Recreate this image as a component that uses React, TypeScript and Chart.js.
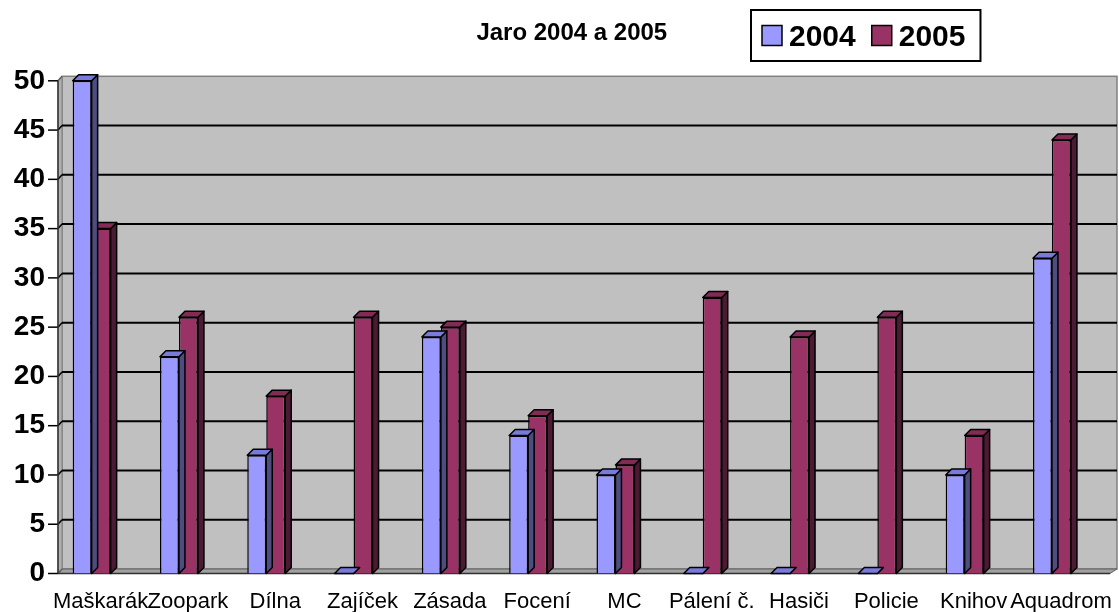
import React, { useEffect, useRef } from "react";
import { Chart, registerables } from "chart.js";

Chart.register(...registerables);

const categories = [
  "Maškarák", "Zoopark", "Dílna", "Zajíček", "Zásada", "Focení",
  "MC", "Pálení č.", "Hasiči", "Policie", "Knihov", "Aquadrom",
];
const values2004 = [50, 22, 12, 0, 24, 14, 10, 0, 0, 0, 10, 32];
const values2005 = [35, 26, 18, 26, 25, 16, 11, 28, 24, 26, 14, 44];
const seriesLabels = ["2004", "2005"];
const titleText = "Jaro 2004 a 2005";

const FONT = '"Liberation Sans", Arial, Helvetica, sans-serif';
const DX = 6;
const DY = 6;

const backgroundPlugin = {
  id: "excel3dBackground",
  beforeDraw(chart: any) {
    const { ctx, chartArea } = chart;
    const { left, top, bottom } = chartArea;
    const yScale = chart.scales.y;
    const fx = left + 10;
    const bx = left + 14;
    const wallTop = top - 4.5;
    const wallBottom = bottom - 4.5;
    const wallRight = chart.width - 2;
    ctx.save();
    ctx.fillStyle = "#C0C0C0";
    ctx.fillRect(bx, wallTop, wallRight - bx, wallBottom - wallTop);
    ctx.strokeStyle = "#808080";
    ctx.lineWidth = 1.5;
    ctx.strokeRect(bx, wallTop, wallRight - bx, wallBottom - wallTop);
    ctx.beginPath();
    ctx.moveTo(fx, top);
    ctx.lineTo(bx, wallTop);
    ctx.lineTo(bx, wallBottom);
    ctx.lineTo(fx, bottom);
    ctx.closePath();
    ctx.fillStyle = "#B0B0B0";
    ctx.fill();
    ctx.strokeStyle = "#808080";
    ctx.lineWidth = 1;
    ctx.stroke();
    ctx.beginPath();
    ctx.moveTo(fx, bottom);
    ctx.lineTo(bx, wallBottom);
    ctx.lineTo(wallRight, wallBottom);
    ctx.lineTo(wallRight - 7, bottom);
    ctx.closePath();
    ctx.fillStyle = "#A0A0A0";
    ctx.fill();
    ctx.strokeStyle = "#606060";
    ctx.lineWidth = 1;
    ctx.stroke();
    const ticks = yScale.ticks;
    ticks.forEach((t: any) => {
      const y = yScale.getPixelForValue(t.value);
      const isEdge = t.value === yScale.min || t.value === yScale.max;
      if (!isEdge) {
        ctx.strokeStyle = "#000000";
        ctx.lineWidth = 2;
        ctx.beginPath();
        ctx.moveTo(bx, y - 4.5);
        ctx.lineTo(wallRight, y - 4.5);
        ctx.stroke();
      }
      ctx.strokeStyle = isEdge ? "#606060" : "#000000";
      ctx.lineWidth = 1.5;
      ctx.beginPath();
      ctx.moveTo(fx, y);
      ctx.lineTo(bx, y - 4.5);
      ctx.stroke();
      ctx.strokeStyle = "#000000";
      ctx.lineWidth = 1.5;
      ctx.beginPath();
      ctx.moveTo(left, y);
      ctx.lineTo(fx, y);
      ctx.stroke();
    });
    ctx.strokeStyle = "#303030";
    ctx.lineWidth = 1.5;
    ctx.beginPath();
    ctx.moveTo(fx, top);
    ctx.lineTo(fx, bottom);
    ctx.stroke();
    ctx.beginPath();
    ctx.moveTo(fx, bottom);
    ctx.lineTo(wallRight - 7, bottom);
    ctx.stroke();
    ctx.restore();
  },
};

const bar3dPlugin = {
  id: "bar3d",
  afterDatasetDraw(chart: any, args: any) {
    const meta = args.meta;
    const ds: any = chart.data.datasets[args.index];
    const ctx = chart.ctx;
    ctx.save();
    ctx.lineWidth = 1.5;
    ctx.strokeStyle = "#000000";
    ctx.lineJoin = "round";
    meta.data.forEach((el: any) => {
      const { x, y, base, width } = el.getProps(["x", "y", "base", "width"], true);
      const l = x - width / 2;
      const r = x + width / 2;
      const tp = Math.min(y, base);
      const bt = Math.max(y, base);
      ctx.beginPath();
      ctx.moveTo(r, tp);
      ctx.lineTo(r + DX, tp - DY);
      ctx.lineTo(r + DX, bt - DY);
      ctx.lineTo(r, bt);
      ctx.closePath();
      ctx.fillStyle = ds.sideColor;
      ctx.fill();
      ctx.stroke();
      ctx.beginPath();
      ctx.moveTo(l, tp);
      ctx.lineTo(l + DX, tp - DY);
      ctx.lineTo(r + DX, tp - DY);
      ctx.lineTo(r, tp);
      ctx.closePath();
      ctx.fillStyle = ds.topColor;
      ctx.fill();
      ctx.stroke();
    });
    ctx.restore();
  },
};

const legendPlugin = {
  id: "boxLegend",
  afterDraw(chart: any) {
    const ctx = chart.ctx;
    const bxX = 751;
    const bxY = 10;
    const bxH = 51;
    ctx.save();
    ctx.font = `bold 30px ${FONT}`;
    const items = chart.data.datasets.map((d: any) => ({
      label: d.label,
      color: d.backgroundColor,
      w: ctx.measureText(d.label).width,
    }));
    let width = 11;
    items.forEach((it: any, i: number) => {
      width += 20 + 7 + it.w + (i < items.length - 1 ? 16 : 15);
    });
    ctx.fillStyle = "#FFFFFF";
    ctx.fillRect(bxX, bxY, width, bxH);
    ctx.strokeStyle = "#000000";
    ctx.lineWidth = 2;
    ctx.strokeRect(bxX, bxY, width, bxH);
    let cx = bxX + 11;
    const midY = bxY + bxH / 2;
    items.forEach((it: any) => {
      ctx.fillStyle = it.color;
      ctx.fillRect(cx, midY - 10, 20, 20);
      ctx.lineWidth = 1.5;
      ctx.strokeStyle = "#000000";
      ctx.strokeRect(cx, midY - 10, 20, 20);
      cx += 27;
      ctx.fillStyle = "#000000";
      ctx.textAlign = "left";
      ctx.textBaseline = "alphabetic";
      ctx.fillText(it.label, cx, midY + 10);
      cx += it.w + 16;
    });
    ctx.restore();
  },
};

export default function App() {
  const canvasRef = useRef<HTMLCanvasElement | null>(null);

  useEffect(() => {
    if (!canvasRef.current) return;
    const chart = new Chart(canvasRef.current, {
      type: "bar",
      data: {
        labels: categories,
        datasets: [
          {
            label: seriesLabels[0],
            data: values2004,
            backgroundColor: "#9999FF",
            borderColor: "#000000",
            borderWidth: 1.5,
            topColor: "#7A7ADB",
            sideColor: "#4D4D80",
            categoryPercentage: 0.435,
            barPercentage: 1,
          } as any,
          {
            label: seriesLabels[1],
            data: values2005,
            backgroundColor: "#993366",
            borderColor: "#000000",
            borderWidth: 1.5,
            topColor: "#822B57",
            sideColor: "#4D1A33",
            categoryPercentage: 0.435,
            barPercentage: 1,
          } as any,
        ],
      },
      options: {
        responsive: false,
        animation: false,
        devicePixelRatio: 1,
        layout: { padding: { left: 0, right: 23.4, top: 0, bottom: 0 } },
        plugins: {
          legend: { display: false },
          tooltip: { enabled: false },
          title: {
            display: true,
            text: titleText,
            color: "#000000",
            fullSize: false,
            font: { family: FONT, size: 24, weight: "bold" },
            padding: { top: 19, bottom: 33 },
          },
        },
        scales: {
          x: {
            grid: { display: false, drawTicks: false },
            border: { display: false },
            afterFit: (s: any) => {
              s.height = 38.5;
            },
            ticks: {
              color: "#000000",
              font: { family: FONT, size: 22 },
              autoSkip: false,
              maxRotation: 0,
              minRotation: 0,
              padding: 15,
              labelOffset: 9,
            },
          },
          y: {
            min: 0,
            max: 50,
            grid: { display: false, drawTicks: false },
            border: { display: false },
            afterFit: (s: any) => {
              s.width = 48;
            },
            ticks: {
              stepSize: 5,
              color: "#000000",
              padding: 3,
              font: { family: FONT, size: 28, weight: "bold" },
            },
          },
        },
      } as any,
      plugins: [backgroundPlugin, bar3dPlugin, legendPlugin],
    });
    return () => chart.destroy();
  }, []);

  return (
    <div style={{ position: "absolute", left: 0, top: 0, width: 1119, height: 612, background: "#FFFFFF" }}>
      <canvas ref={canvasRef} width={1119} height={612} style={{ display: "block" }} />
    </div>
  );
}
